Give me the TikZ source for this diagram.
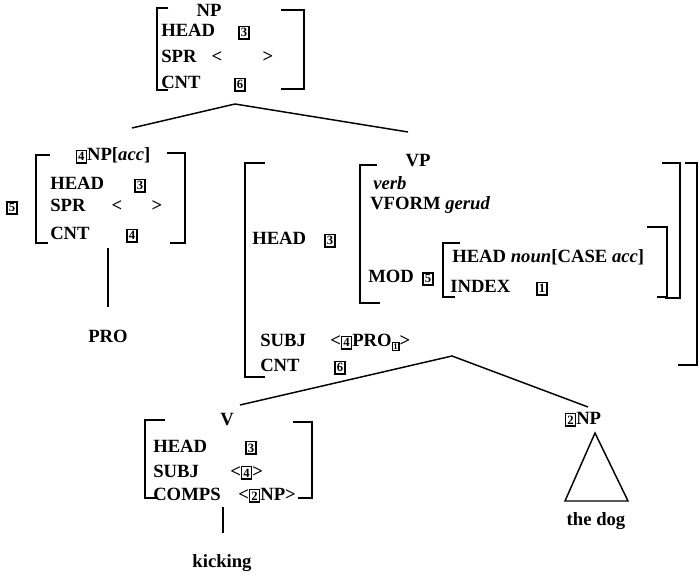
\documentclass[tikz,border=0pt]{standalone}
\usepackage{fontspec}
\setmainfont{Liberation Serif}
\usetikzlibrary{positioning}

\newcommand{\tagnum}[1]{{\setlength\fboxsep{0.9pt}\setlength\fboxrule{1pt}\fbox{\fontsize{9.5}{9.5}\selectfont #1}}}
\newcommand{\tagsub}[1]{{\setlength\fboxsep{0.5pt}\setlength\fboxrule{0.8pt}\fbox{\fontsize{6.5}{6.5}\selectfont #1}}}

\begin{document}
\begin{tikzpicture}[x=0.75pt, y=-0.75pt, font=\fontsize{14}{16}\selectfont\bfseries,
        feat/.style={anchor=base west, inner sep=0pt},
        val/.style={anchor=base, inner sep=0pt},
        cat/.style={anchor=base, inner sep=0pt},
        brk/.style={line width=1.3pt},
        branch/.style={line width=1.1pt}]
    \useasboundingbox (0,0) rectangle (700,577);

    % mother NP
    \node[cat]  (np)       at (209,17) {NP};
    \node[feat] (np-head)  at (161,37) {HEAD};
    \node[val]  (np-hv)    at (244,37) {\tagnum{3}};
    \node[feat] (np-spr)   at (161,63) {SPR};
    \node[val]  (np-sl)    at (217,63) {<};
    \node[val]  (np-sr)    at (268,63) {>};
    \node[feat] (np-cnt)   at (161,89) {CNT};
    \node[val]  (np-cv)    at (240,89) {\tagnum{6}};
    \draw[brk] (168,8) -| (157,90) -- (168,90);
    \draw[brk] (281,10) -| (304,89) -- (281,89);

    % branches below the mother
    \coordinate (np-root) at (235,104);
    \coordinate (np-l)    at (132,128);
    \coordinate (np-r)    at (408,132);
    \draw[branch] (np-l) -- (np-root) -- (np-r);

    % subject NP[acc]
    \node[cat]  (acc)      at (113,161) {\tagnum{4}NP[\textit{acc}]};
    \node[val]  (acc-tag)  at (12,212)  {\tagnum{5}};
    \node[feat] (acc-head) at (50,190)  {HEAD};
    \node[val]  (acc-hv)   at (140,190) {\tagnum{3}};
    \node[feat] (acc-spr)  at (50,212)  {SPR};
    \node[val]  (acc-sl)   at (117,212) {<};
    \node[val]  (acc-sr)   at (157,212) {>};
    \node[feat] (acc-cnt)  at (50,240)  {CNT};
    \node[val]  (acc-cv)   at (132,240) {\tagnum{4}};
    \draw[brk] (50,155) -| (36,243) -- (48,243);
    \draw[brk] (167,153) -| (185,243) -- (170,243);

    \coordinate (acc-foot) at (108,248);
    \coordinate (pro-top)  at (108,307);
    \draw[branch] (acc-foot) -- (pro-top);
    \node[cat]  (pro)      at (108,343) {PRO};

    % VP
    \node[cat]  (vp)       at (418,167) {VP};
    \draw[brk] (265,163) -| (245,377) -- (265,377);
    \draw[brk] (685,163) -| (697,365) -- (678,365);
    \node[feat] (vp-head)  at (252,245) {HEAD};
    \node[val]  (vp-hv)    at (330,245) {\tagnum{3}};
    \draw[brk] (377,165) -| (360,303) -- (380,303);
    \draw[brk] (662,163) -| (680,298) -- (665,298);
    \node[feat] (vp-verb)  at (373,190) {\textit{verb}};
    \node[feat] (vp-vform) at (370,210) {VFORM};
    \node[feat] (vp-ger)   at (445,210) {\textit{gerud}};
    \node[feat] (vp-mod)   at (368,283) {MOD};
    \node[val]  (vp-mv)    at (428,283) {\tagnum{5}};
    \draw[brk] (460,243) -| (443,297) -- (455,297);
    \draw[brk] (647,227) -| (667,297) -- (657,297);
    \node[feat] (mod-head) at (452,263) {HEAD \textit{noun}[CASE \textit{acc}]};
    \node[feat] (mod-idx)  at (450,293) {INDEX};
    \node[val]  (mod-iv)   at (542,293) {\tagnum{1}};
    \node[feat] (vp-subj)  at (260,347) {SUBJ};
    \node[feat] (vp-sv)    at (330,347) {<\tagnum{4}PRO\raisebox{-2pt}{\tagsub{1}}>};
    \node[feat] (vp-cnt)   at (260,372) {CNT};
    \node[val]  (vp-cv)    at (340,372) {\tagnum{6}};

    % branches below the VP
    \coordinate (vp-root) at (452,356);
    \coordinate (vp-l)    at (240,405);
    \coordinate (vp-r)    at (588,407);
    \draw[branch] (vp-l) -- (vp-root) -- (vp-r);

    % head V
    \node[cat]  (v)        at (227,425) {V};
    \draw[brk] (165,420) -| (145,498) -- (158,498);
    \draw[brk] (293,422) -| (312,498) -- (298,498);
    \node[feat] (v-head)   at (153,452) {HEAD};
    \node[val]  (v-hv)     at (251,452) {\tagnum{3}};
    \node[feat] (v-subj)   at (153,477) {SUBJ};
    \node[feat] (v-sv)     at (230,477) {<\tagnum{4}>};
    \node[feat] (v-comps)  at (153,500) {COMPS};
    \node[feat] (v-cv)     at (238,500) {<\tagnum{2}NP>};

    \coordinate (v-foot)   at (223,507);
    \coordinate (kick-top) at (223,533);
    \draw[branch] (v-foot) -- (kick-top);
    \node[cat]  (kick)     at (222,567) {kicking};

    % object NP
    \node[cat]  (obj)      at (583,424) {\tagnum{2}NP};
    \coordinate (tri-top)  at (595,433);
    \coordinate (tri-l)    at (565,501);
    \coordinate (tri-r)    at (628,501);
    \draw[branch] (tri-top) -- (tri-l) -- (tri-r) -- cycle;
    \node[cat]  (dog)      at (596,525) {the dog};
\end{tikzpicture}
\end{document}
